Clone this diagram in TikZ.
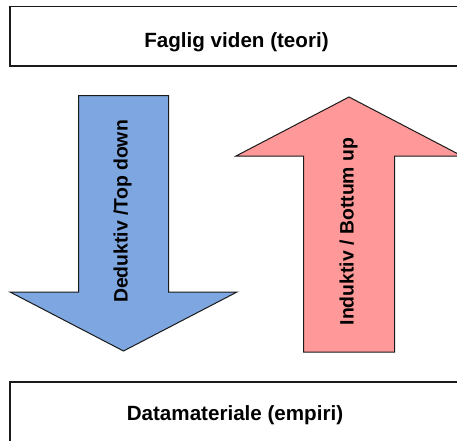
\documentclass[tikz,border=0pt]{standalone}
\usepackage{fontspec}
\setmainfont{Liberation Sans}
\definecolor{arrowblue}{HTML}{7EA6E0}
\definecolor{arrowpink}{HTML}{FF9999}
\definecolor{edge}{HTML}{1A1A1A}
\begin{document}
\begin{tikzpicture}[x=1pt,y=-1pt,
  boxstyle/.style={draw=edge,line width=1.2pt,fill=white},
  arrowshape/.style={draw=edge,line width=1pt,line join=miter},
  boxtext/.style={font=\bfseries\fontsize{20.6}{24}\selectfont,inner sep=0pt},
  arrowtext/.style={font=\bfseries\fontsize{19.4}{23}\selectfont,rotate=90,inner sep=0pt}]
\useasboundingbox (0,0) rectangle (457,440);
\fill[white] (0,0) rectangle (457,440);
\begin{scope}
\clip (0,0) rectangle (457,440);
\draw[boxstyle] (10,6.5) rectangle (470,66);
\node[boxtext,anchor=base] (top) at (236.5,47) {Faglig viden (teori)};
\draw[boxstyle] (10,382) rectangle (470,460);
\node[boxtext,anchor=base] (bottom) at (235,420) {Datamateriale (empiri)};
\draw[arrowshape,fill=arrowblue] (78.5,95.5) -- (168.5,95.5) -- (168.5,292) -- (237,292) -- (123.5,351) -- (10,292) -- (78.5,292) -- cycle;
\node[arrowtext] (deduktiv) at (122.5,211.5) {Deduktiv /Top down};
\draw[arrowshape,fill=arrowpink] (303.5,352) -- (394.5,352) -- (394.5,156) -- (462,156) -- (349,97) -- (236,156) -- (303.5,156) -- cycle;
\node[arrowtext] (induktiv) at (348.5,231.5) {Induktiv / Bottum up};
\end{scope}
\end{tikzpicture}
\end{document}
